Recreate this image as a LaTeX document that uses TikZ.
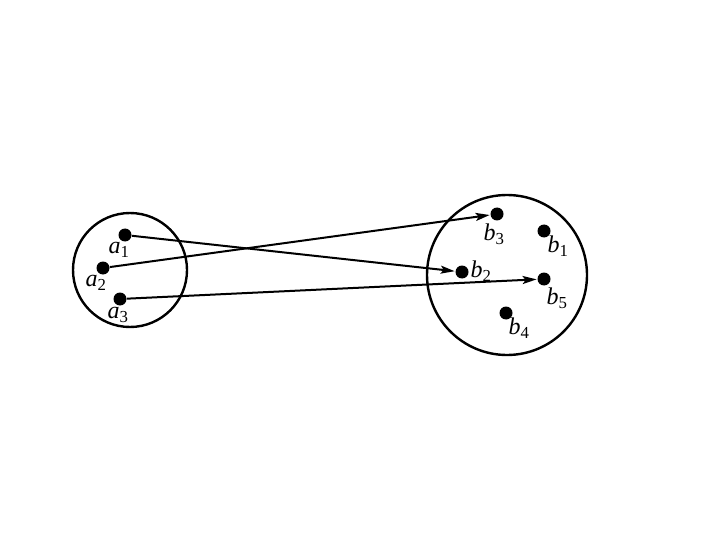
\documentclass[tikz,border=0pt]{standalone}
\usepackage{fontspec}
\setmainfont{Liberation Serif}
\usetikzlibrary{arrows.meta}
\newcommand{\elem}[2]{\textit{#1}\textsubscript{#2}}
\begin{document}
\begin{tikzpicture}[x=1pt,y=-1pt,thick,>={Stealth[length=14pt,width=8pt,inset=3pt]}]
\tikzstyle{pt}=[circle,fill,inner sep=0pt,minimum size=13pt]
\tikzstyle{lab}=[font=\fontsize{24}{28}\selectfont,inner sep=0pt]
\tikzstyle{set}=[line width=2.4pt]
\tikzstyle{map}=[->,line width=2pt,shorten >=0.5pt]
\useasboundingbox (0,0) rectangle (720,540);
% the two sets
\draw[set] (130,270) circle (57);
\draw[set] (507,275) circle (80);
% points of A
\node[pt] (a1) at (125,235) {};
\node[pt] (a2) at (103,268) {};
\node[pt] (a3) at (120,299) {};
\node[lab] (la1) at (119,250) {\elem{a}{1}};
\node[lab] (la2) at (96,283) {\elem{a}{2}};
\node[lab] (la3) at (118,315) {\elem{a}{3}};
% points of B
\node[pt] (b1) at (544,231) {};
\node[pt] (b2) at (462,272) {};
\node[pt] (b3) at (497,214) {};
\node[pt] (b4) at (506,313) {};
\node[pt] (b5) at (544,279) {};
\node[lab] (lb1) at (558,246) {\elem{b}{1}};
\node[lab] (lb2) at (481,271) {\elem{b}{2}};
\node[lab] (lb3) at (494,234) {\elem{b}{3}};
\node[lab] (lb4) at (519,328) {\elem{b}{4}};
\node[lab] (lb5) at (557,298) {\elem{b}{5}};
% the mapping
\draw[map] (a1) -- (b2);
\draw[map] (a2) -- (b3);
\draw[map] (a3) -- (b5);
\end{tikzpicture}
\end{document}
